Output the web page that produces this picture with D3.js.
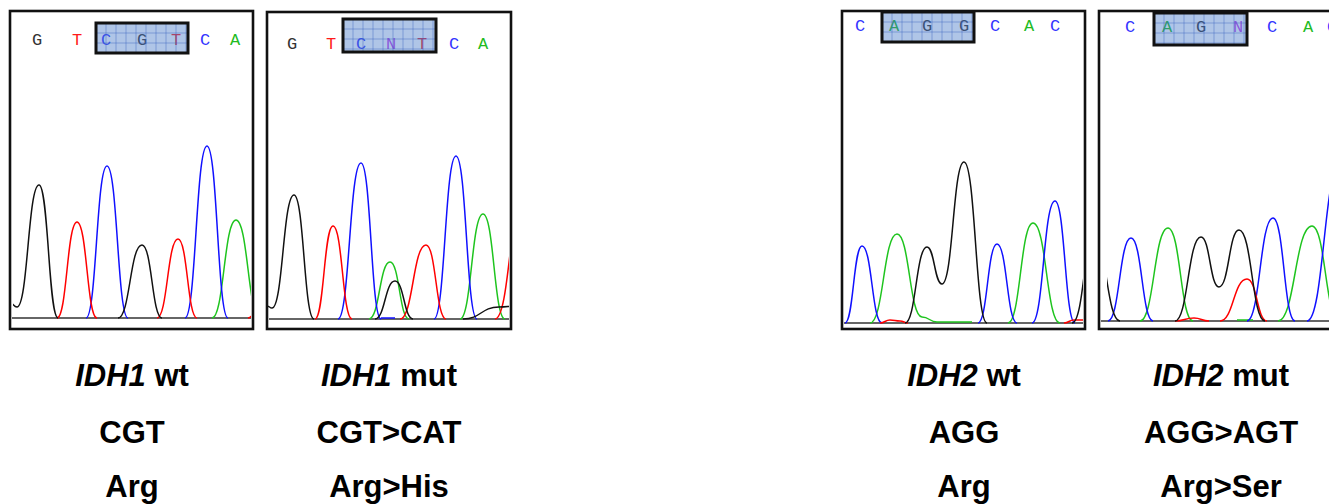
<!DOCTYPE html>
<html>
<head>
<meta charset="utf-8">
<title>IDH1 / IDH2 sequencing traces</title>
<script src="https://cdn.jsdelivr.net/npm/d3@7"></script>
<style>
  body { margin: 0; background: #fff; }
  svg { display: block; }
</style>
</head>
<body>
<svg id="chart" width="1329" height="504"></svg>
<script>
// captions under each trace
const genes = ["IDH1", "IDH1", "IDH2", "IDH2"];
const status = ["wt", "mut", "wt", "mut"];
const codons = ["CGT", "CGT>CAT", "AGG", "AGG>AGT"];
const aminoAcids = ["Arg", "Arg>His", "Arg", "Arg>Ser"];

// base calls and their position along the trace (scan units)
const calls = ["GTCGTCA", "GTCNTCA", "CAGGCAC", "CAGNCAC"];
const callPos = [
  [27, 67, 96, 132, 166, 195, 225],
  [25, 64, 94, 124, 155, 187, 216],
  [18, 52, 85, 122, 153, 187, 213],
  [31, 68, 102, 139, 173, 209, 233]
];
// highlighted codon (scan units)
const codonSpan = [[86, 178], [76, 169], [40, 132], [55, 148]];

// trace extrema [scan, signal], one list per peak group
const wtG = [[[0, 15], [7, 11], [29, 133], [48, 0]], [[108, 0], [132, 73], [152, 0]]];
const wtT = [[[47, 0], [67, 96], [87, 0]], [[147, 0], [168, 79], [187, 0]], [[238, 0], [262, 60]]];
const wtC = [[[76, 0], [97, 152], [118, 0]], [[175, 0], [197, 172], [218, 0]]];
const wtA = [[[202, 0], [226, 98], [250, 0]]];

const mutG = [[[0, 13], [5, 11], [27, 124], [47, 0]], [[108, 0], [128, 38], [146, 0]], [[196, 0], [232, 12], [250, 13]]];
const mutT = [[[48, 0], [66, 93], [85, 0]], [[133, 0], [159, 74], [179, 0]], [[228, 0], [258, 130]]];
const mutC = [[[71, 0], [94, 156], [114, 0]], [[167, 0], [189, 163], [210, 0]], [[114, 1], [128, 1]]];
const mutA = [[[102, 0], [123, 57], [142, 0]], [[193, 0], [216, 105], [238, 0]]];

const wt2G = [[[63, 0], [85, 76], [100, 39], [122, 161], [145, 0]], [[230, 0], [256, 110]]];
const wt2T = [[[38, 0], [48, 3], [58, 2], [66, 0]], [[222, 0], [232, 3], [250, 3]]];
const wt2C = [[[3, 0], [20, 77], [40, 0]], [[136, 0], [155, 79], [175, 0]], [[190, 0], [213, 122], [233, 0]]];
const wt2A = [[[28, 0], [55, 89], [80, 6], [95, 1], [130, 1]], [[166, 0], [191, 100], [218, 0]]];

const mut2G = [[[-6, 85], [21, 0]], [[76, 0], [102, 84], [120, 34], [140, 91], [166, 0]]];
const mut2T = [[[76, 0], [95, 3], [110, 0]], [[121, 0], [148, 42], [168, 0]]];
const mut2C = [[[9, 0], [32, 83], [54, 0]], [[148, 0], [174, 103], [196, 0]], [[208, 0], [242, 160]]];
const mut2A = [[[41, 0], [69, 93], [94, 0]], [[179, 0], [213, 95], [240, 0]], [[138, 1], [154, 1]]];

const traces = [
  {G: wtG, T: wtT, C: wtC, A: wtA},
  {G: mutG, T: mutT, C: mutC, A: mutA},
  {G: wt2G, T: wt2T, C: wt2C, A: wt2A},
  {G: mut2G, T: mut2T, C: mut2C, A: mut2A}
];

// layout of the four frames
const panels = [
  {x: 10, top: 11, w: 243, bottom: 329, base: 318, callY: 39, box: [23, 53], inset: 3, label: 132},
  {x: 267, top: 12, w: 244, bottom: 329, base: 319, callY: 43, box: [19, 52], inset: 1, label: 389},
  {x: 842, top: 11, w: 243, bottom: 329, base: 323, callY: 25, box: [12, 42], inset: 3, label: 964},
  {x: 1099, top: 11, w: 244, bottom: 329, base: 321, callY: 26, box: [13, 45], inset: 8, label: 1221}
];

const traceColor = {G: "#111", T: "#ff0000", C: "#1010ff", A: "#1ec41e"};
const callColor = {G: "#333", T: "#ff1a1a", C: "#3535ff", A: "#22bb22", N: "#c040ea"};

const svg = d3.select("#chart");
svg.append("rect").attr("width", 1329).attr("height", 504).attr("fill", "#fff");

panels.forEach((p, i) => {
  const g = svg.append("g");
  const x = d3.scaleLinear().domain([0, p.w]).range([p.x, p.x + p.w]);
  const y = d3.scaleLinear().domain([0, 300]).range([p.base, p.base - 300]);

  g.append("clipPath").attr("id", "clip" + i)
    .append("rect")
    .attr("x", p.x + p.inset).attr("y", p.top + 2)
    .attr("width", p.w - p.inset - 2).attr("height", p.base - p.top);

  // baseline
  g.append("line")
    .attr("x1", x(0) + 2).attr("x2", x(p.w) - 2)
    .attr("y1", y(0)).attr("y2", y(0))
    .attr("stroke", "#333").attr("stroke-width", 1.6);

  const line = d3.line()
    .x(d => x(d[0]))
    .y(d => y(d[1]))
    .curve(d3.curveBumpX);

  const tg = g.append("g").attr("clip-path", "url(#clip" + i + ")");
  ["A", "C", "T", "G"].forEach(ch => {
    tg.selectAll(null)
      .data(traces[i][ch])
      .join("path")
      .attr("d", line)
      .attr("fill", "none")
      .attr("stroke", traceColor[ch])
      .attr("stroke-width", 1.5);
  });

  // base calls
  g.selectAll(null)
    .data(calls[i].split(""))
    .join("text")
    .attr("x", (d, k) => x(callPos[i][k]))
    .attr("y", p.callY + 6)
    .attr("text-anchor", "middle")
    .attr("font-family", "'Liberation Mono', 'DejaVu Sans Mono', monospace")
    .attr("font-size", 17)
    .attr("fill", d => callColor[d])
    .text(d => d);

  // codon highlight box
  const bx0 = x(codonSpan[i][0]), bx1 = x(codonSpan[i][1]);
  const [by0, by1] = p.box;
  g.append("rect")
    .attr("x", bx0).attr("y", by0)
    .attr("width", bx1 - bx0).attr("height", by1 - by0)
    .attr("fill", "rgb(70,120,200)").attr("fill-opacity", 0.43);
  g.selectAll(null)
    .data(d3.range(bx0 + 10, bx1, 10))
    .join("line")
    .attr("x1", d => d).attr("x2", d => d)
    .attr("y1", by0).attr("y2", by1)
    .attr("stroke", "rgb(60,100,190)").attr("stroke-opacity", 0.45);
  g.selectAll(null)
    .data(d3.range(by0 + 10, by1, 10))
    .join("line")
    .attr("x1", bx0).attr("x2", bx1)
    .attr("y1", d => d).attr("y2", d => d)
    .attr("stroke", "rgb(60,100,190)").attr("stroke-opacity", 0.45);
  g.append("rect")
    .attr("x", bx0).attr("y", by0)
    .attr("width", bx1 - bx0).attr("height", by1 - by0)
    .attr("fill", "none").attr("stroke", "#111").attr("stroke-width", 3);

  // frame
  g.append("rect")
    .attr("x", p.x).attr("y", p.top)
    .attr("width", p.w).attr("height", p.bottom - p.top)
    .attr("fill", "none").attr("stroke", "#111").attr("stroke-width", 2.6);

  // captions
  const font = "'Liberation Sans', Arial, sans-serif";
  const title = svg.append("text")
    .attr("x", p.label).attr("y", 386)
    .attr("text-anchor", "middle")
    .attr("font-family", font).attr("font-size", 31).attr("font-weight", "bold");
  title.append("tspan").attr("font-style", "italic").text(genes[i]);
  title.append("tspan").text(" " + status[i]);

  svg.append("text")
    .attr("x", p.label).attr("y", 443)
    .attr("text-anchor", "middle")
    .attr("font-family", font).attr("font-size", 31).attr("font-weight", "bold")
    .text(codons[i]);

  svg.append("text")
    .attr("x", p.label).attr("y", 497)
    .attr("text-anchor", "middle")
    .attr("font-family", font).attr("font-size", 31).attr("font-weight", "bold")
    .text(aminoAcids[i]);
});
</script>
</body>
</html>
